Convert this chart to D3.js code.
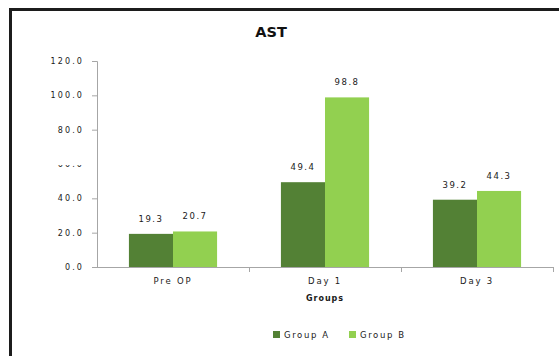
<!DOCTYPE html>
<html>
<head>
<meta charset="utf-8">
<script src="https://cdn.jsdelivr.net/npm/d3@7"></script>
<style>
  html, body { margin: 0; padding: 0; background: #fff; }
  svg { display: block; font-family: "DejaVu Sans", Verdana, sans-serif; }
</style>
</head>
<body>
<svg id="chart" width="559" height="356"></svg>
<script>
// AST values per time point for the two groups
const categories = ["Pre OP", "Day 1", "Day 3"];
const seriesNames = ["Group A", "Group B"];
const groupA = [19.3, 49.4, 39.2];
const groupB = [20.7, 98.8, 44.3];
const yTicks = [0, 20, 40, 60, 80, 100, 120];
const colors = ["#538135", "#92d050"];

const svg = d3.select("#chart");
const W = 559, H = 356;
const m = { left: 97, right: 6, top: 61, bottom: 89 };

// outer frame
svg.append("rect")
  .attr("x", 10.5).attr("y", 9.5)
  .attr("width", W + 20).attr("height", H + 20)
  .attr("fill", "none").attr("stroke", "#1c1c1c").attr("stroke-width", 3);

const y = d3.scaleLinear().domain([0, 120]).range([H - m.bottom, m.top]);
const x0 = d3.scaleBand().domain(categories).range([m.left, W - m.right]);
const pad = x0.bandwidth() * 0.21;
const x1 = d3.scaleBand().domain(seriesNames).range([pad, x0.bandwidth() - pad]);

const rows = categories.map((c, i) => ({ cat: c, vals: [groupA[i], groupB[i]] }));

// title
svg.append("text")
  .attr("x", 271).attr("y", 37)
  .attr("text-anchor", "middle")
  .attr("font-size", 14.5).attr("font-weight", "bold")
  .attr("fill", "#111")
  .text("AST");

// y axis
const yAxis = svg.append("g")
  .attr("transform", `translate(${m.left},0)`)
  .call(d3.axisLeft(y).tickValues(yTicks).tickFormat(d3.format(".1f")).tickSize(5).tickPadding(8));
yAxis.select(".domain").attr("stroke", "#a6a6a6");
yAxis.selectAll(".tick line").attr("stroke", "#a6a6a6");
yAxis.selectAll(".tick text")
  .attr("font-family", "DejaVu Sans, Verdana, sans-serif")
  .attr("font-size", 8).attr("letter-spacing", 2.1).attr("fill", "#1a1a1a");

// the 60.0 label is partly hidden at its top (clip relative to the tick group)
svg.append("clipPath").attr("id", "halfClipLocal")
  .append("rect").attr("x", -m.left).attr("y", 0.5).attr("width", m.left + 5).attr("height", 10);
yAxis.selectAll(".tick").filter(d => d === 60)
  .attr("clip-path", "url(#halfClipLocal)");

// x axis
const xAxisY = y(0);
svg.append("line")
  .attr("x1", m.left).attr("x2", W - m.right)
  .attr("y1", xAxisY + 0.5).attr("y2", xAxisY + 0.5)
  .attr("stroke", "#a6a6a6");
svg.selectAll(".xtick")
  .data(categories)
  .join("line")
  .attr("class", "xtick")
  .attr("x1", d => Math.round(x0(d) + x0.bandwidth()) + 0.5)
  .attr("x2", d => Math.round(x0(d) + x0.bandwidth()) + 0.5)
  .attr("y1", xAxisY).attr("y2", xAxisY + 5)
  .attr("stroke", "#a6a6a6");
svg.selectAll(".xlabel")
  .data(categories)
  .join("text")
  .attr("class", "xlabel")
  .attr("x", d => x0(d) + x0.bandwidth() / 2)
  .attr("y", xAxisY + 17)
  .attr("text-anchor", "middle")
  .attr("font-size", 8.5).attr("letter-spacing", 1.8).attr("fill", "#1a1a1a")
  .text(d => d);

// axis title
svg.append("text")
  .attr("x", (m.left + W - m.right) / 2).attr("y", 301)
  .attr("text-anchor", "middle")
  .attr("font-size", 8).attr("font-weight", "bold").attr("letter-spacing", 1).attr("fill", "#1a1a1a")
  .text("Groups");

// bars
const groups = svg.selectAll(".grp")
  .data(rows)
  .join("g")
  .attr("class", "grp")
  .attr("transform", d => `translate(${x0(d.cat)},0)`);

groups.selectAll("rect")
  .data(d => d.vals.map((v, i) => ({ name: seriesNames[i], v, i })))
  .join("rect")
  .attr("x", d => x1(d.name))
  .attr("y", d => y(d.v))
  .attr("width", x1.bandwidth())
  .attr("height", d => y(0) - y(d.v))
  .attr("fill", d => colors[d.i]);

groups.selectAll(".val")
  .data(d => d.vals.map((v, i) => ({ name: seriesNames[i], v, i })))
  .join("text")
  .attr("class", "val")
  .attr("x", d => x1(d.name) + x1.bandwidth() / 2)
  .attr("y", d => y(d.v) - 12)
  .attr("text-anchor", "middle")
  .attr("font-size", 8.5).attr("letter-spacing", 1.5).attr("fill", "#1a1a1a")
  .text(d => d3.format(".1f")(d.v));

// legend
const legend = svg.append("g").attr("transform", "translate(273,331)");
const items = legend.selectAll("g")
  .data(seriesNames)
  .join("g")
  .attr("transform", (d, i) => `translate(${i * 76},0)`);
items.append("rect")
  .attr("width", 7).attr("height", 7)
  .attr("fill", (d, i) => colors[i]);
items.append("text")
  .attr("x", 11).attr("y", 6.5)
  .attr("font-size", 8.5).attr("letter-spacing", 1.6).attr("fill", "#1a1a1a")
  .text(d => d);
</script>
</body>
</html>
